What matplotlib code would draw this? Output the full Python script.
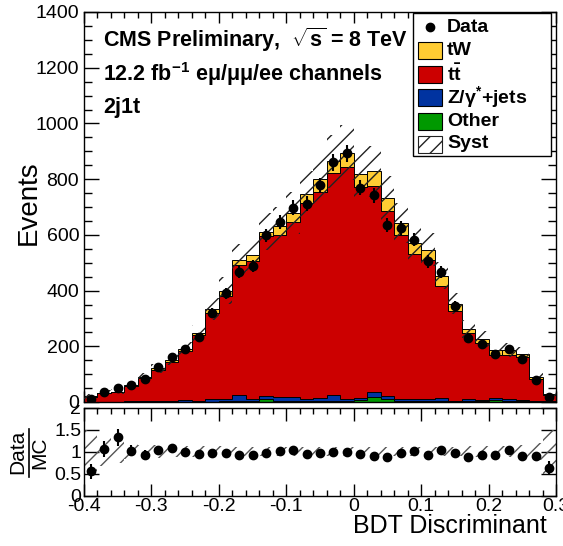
import numpy as np
import matplotlib
matplotlib.use("Agg")
import matplotlib.pyplot as plt
from matplotlib.patches import Rectangle
from matplotlib.lines import Line2D
from matplotlib.ticker import MultipleLocator

plt.rcParams['font.family'] = ['Liberation Sans', 'DejaVu Sans']
plt.rcParams['mathtext.fontset'] = 'custom'
plt.rcParams['mathtext.rm'] = 'Liberation Sans'
plt.rcParams['mathtext.it'] = 'Liberation Sans:italic'
plt.rcParams['mathtext.bf'] = 'Liberation Sans:bold'
plt.rcParams['hatch.linewidth'] = 1.0

# ---- data ----
bin_edges = np.round(np.arange(-0.40, 0.3001, 0.02), 2)
total_mc = [20, 33, 37, 60, 89, 121, 151, 191, 248, 334, 400, 511, 527, 612, 631,
            679, 748, 800, 864, 895, 817, 828, 731, 643, 571, 547, 454, 353, 262,
            226, 187, 187, 173, 88, 27]
tw = [1, 2, 2, 3, 4, 5, 6, 7, 8, 14, 20, 18, 22, 17, 33,
      34, 35, 47, 41, 50, 44, 53, 46, 44, 39, 39, 36, 28, 15,
      15, 17, 17, 12, 5, 2]
zjets = [1, 1, 1, 2, 2, 3, 3, 5, 3, 8, 10, 24, 8, 12, 17,
         17, 10, 14, 23, 10, 10, 18, 11, 10, 10, 10, 12, 3, 10,
         6, 6, 7, 4, 2, 1]
other = [0, 0, 0, 1, 1, 1, 1, 1, 1, 1, 2, 2, 2, 9, 2,
         2, 2, 2, 2, 2, 6, 17, 9, 2, 2, 2, 2, 2, 2,
         2, 7, 2, 2, 1, 1]
data = [11, 35, 49, 61, 82, 125, 162, 190, 234, 320, 390, 465, 487, 598, 645,
        697, 712, 778, 860, 893, 770, 742, 634, 624, 583, 505, 465, 343, 231,
        210, 173, 192, 154, 79, 17]
syst_rel = [0.50, 0.33, 0.25, 0.18, 0.15, 0.14, 0.13, 0.12, 0.12, 0.12, 0.12, 0.11, 0.11, 0.11, 0.11,
            0.11, 0.11, 0.11, 0.11, 0.11, 0.11, 0.11, 0.11, 0.11, 0.11, 0.11, 0.11, 0.11, 0.12,
            0.12, 0.12, 0.13, 0.14, 0.20, 0.50]
xticks_main = [-0.4, -0.3, -0.2, -0.1, 0.0, 0.1, 0.2, 0.3]
xtick_labels = ['-0.4', '-0.3', '-0.2', '-0.1', '0', '0.1', '0.2', '0.3']
legend_labels = ['Data', 'tW', r'$\mathbf{t\bar{t}}$', r'Z/γ$^{\mathbf{*}}$+jets', 'Other', 'Syst']

total_mc = np.array(total_mc, float)
tw = np.array(tw, float)
zjets = np.array(zjets, float)
other = np.array(other, float)
data = np.array(data, float)
syst_rel = np.array(syst_rel, float)
ttbar = total_mc - tw - zjets - other

centers = 0.5 * (bin_edges[:-1] + bin_edges[1:])
width = np.diff(bin_edges)
left = bin_edges[:-1]

C_TW = '#ffcc33'
C_TT = '#cc0000'
C_Z = '#0033a0'
C_OT = '#009900'
C_HATCH = '#222222'

W, H = 563, 546
fig = plt.figure(figsize=(W / 100, H / 100), dpi=100)

def fx(px):
    return px / W

def fy(py):
    return 1 - py / H

axL, axR = 84, 556
rax = fig.add_axes([fx(axL), fy(495.5), fx(axR - axL), (495.5 - 407.5) / H])
ax = fig.add_axes([fx(axL), fy(402), fx(axR - axL), (402 - 12) / H])

# stacked histogram: other, Z, ttbar (fills + step outlines), tW boxes
b0 = np.zeros_like(total_mc)
b1 = b0 + other
b2 = b1 + zjets
b3 = b2 + ttbar
ax.bar(left, other, width=width, bottom=b0, align='edge', color=C_OT, linewidth=0, zorder=2)
ax.bar(left, zjets, width=width, bottom=b1, align='edge', color=C_Z, linewidth=0, zorder=2)
ax.bar(left, ttbar, width=width, bottom=b2, align='edge', color=C_TT, linewidth=0, zorder=2)
for lev in (b1, b2, b3):
    ax.stairs(lev, bin_edges, color='black', linewidth=0.7, zorder=2.5)
ax.bar(left, tw, width=width, bottom=b3, align='edge', color=C_TW,
       edgecolor='black', linewidth=0.7, zorder=2.6)

# systematic band
ax.bar(left, 2 * total_mc * syst_rel, width=width, bottom=total_mc * (1 - syst_rel),
       align='edge', fill=False, hatch='//', edgecolor=C_HATCH, linewidth=0, zorder=3)

# data
ax.errorbar(centers, data, yerr=np.sqrt(data), fmt='o', color='black',
            markersize=6, elinewidth=1.5, capsize=0, zorder=5)

ax.set_xlim(-0.4, 0.3)
ax.set_ylim(0, 1400)
ax.set_xticks(xticks_main)
ax.set_xticklabels([])
ax.xaxis.set_minor_locator(MultipleLocator(0.02))
ax.yaxis.set_major_locator(MultipleLocator(200))
ax.yaxis.set_minor_locator(MultipleLocator(50))
ax.tick_params(axis='both', which='both', direction='in', top=True, right=True,
               labelsize=14, width=1)
ax.tick_params(axis='y', which='major', length=11)
ax.tick_params(axis='y', which='minor', length=6)
ax.tick_params(axis='x', which='major', length=8)
ax.tick_params(axis='x', which='minor', length=4)
for s in ax.spines.values():
    s.set_linewidth(1)

fig.text(fx(29), fy(203), 'Events', rotation=90, fontsize=20, ha='center', va='center')

# annotations
ax.text(0.040, 0.910, r'CMS Preliminary,  $\mathbf{\sqrt{s}}$ = 8 TeV', transform=ax.transAxes,
        fontsize=15.5, fontweight='bold', ha='left', va='baseline')
ax.text(0.040, 0.823, r'12.2 fb$^{\mathbf{-1}}$ eμ/μμ/ee channels', transform=ax.transAxes,
        fontsize=15.5, fontweight='bold', ha='left', va='baseline')
ax.text(0.040, 0.741, '2j1t', transform=ax.transAxes,
        fontsize=15.5, fontweight='bold', ha='left', va='baseline')

# legend (drawn as a ROOT-style box)
tf = fig.transFigure
fig.add_artist(Rectangle((fx(413), fy(156)), fx(551 - 413), (156 - 13) / H, transform=tf,
                         facecolor='white', edgecolor='black', linewidth=1, zorder=20))
row_y = [27, 50.5, 74, 97.5, 121, 144]
styles = [None,
          dict(facecolor=C_TW, edgecolor='black'),
          dict(facecolor=C_TT, edgecolor='black'),
          dict(facecolor=C_Z, edgecolor='black'),
          dict(facecolor=C_OT, edgecolor='black'),
          dict(facecolor='white', edgecolor=C_HATCH, hatch='//')]
for yy, lab, st in zip(row_y, legend_labels, styles):
    if st is None:
        fig.add_artist(Line2D([fx(430)], [fy(yy)], marker='o', color='black', markersize=6,
                              linestyle='none', transform=tf, zorder=21))
    else:
        fig.add_artist(Rectangle((fx(418), fy(yy + 8.5)), fx(24), 17 / H, transform=tf,
                                 linewidth=0.8, zorder=21, **st))
    fig.text(fx(447), fy(yy), lab, fontsize=14, fontweight='bold', ha='left', va='center',
             zorder=22)

# ratio plot
ratio = data / total_mc
ratio_err = np.sqrt(data) / total_mc
rax.bar(left, 2 * syst_rel, width=width, bottom=1 - syst_rel, align='edge', fill=False,
        hatch='//', edgecolor='#555555', linewidth=0, zorder=2)
rax.errorbar(centers, ratio, yerr=ratio_err, fmt='o', color='black', markersize=6,
             elinewidth=1.5, capsize=0, zorder=5)
rax.set_xlim(-0.4, 0.3)
rax.set_ylim(0, 2)
rax.set_xticks(xticks_main)
rax.set_xticklabels(xtick_labels)
rax.xaxis.set_minor_locator(MultipleLocator(0.02))
rax.set_yticks([0, 0.5, 1, 1.5, 2])
rax.set_yticklabels(['0', '0.5', '1', '1.5', '2'])
rax.tick_params(axis='both', which='both', direction='in', top=True, right=True,
                labelsize=14, width=1, pad=2)
rax.tick_params(axis='x', which='major', length=9)
rax.tick_params(axis='x', which='minor', length=4)
rax.tick_params(axis='y', which='major', length=11)
for s in rax.spines.values():
    s.set_linewidth(1)

# the top ratio label is partly hidden under the upper pad, as in the reference
clip_rect = Rectangle((0, 0), 1, fy(404.5), transform=tf, visible=False)
fig.add_artist(clip_rect)
for lbl in rax.get_yticklabels():
    lbl.set_clip_path(clip_rect)
    lbl.set_clip_on(True)

# ratio y title: Data over MC
fig.text(fx(18), fy(452), 'Data', rotation=90, fontsize=15, ha='center', va='center')
fig.add_artist(Line2D([fx(29), fx(29)], [fy(429), fy(477)], color='black', linewidth=1.2,
                      transform=tf))
fig.text(fx(40), fy(453), 'MC', rotation=90, fontsize=15, ha='center', va='center')

fig.text(fx(547), fy(533), 'BDT Discriminant', fontsize=18, ha='right', va='baseline')

fig.savefig('out.png', dpi=100)
